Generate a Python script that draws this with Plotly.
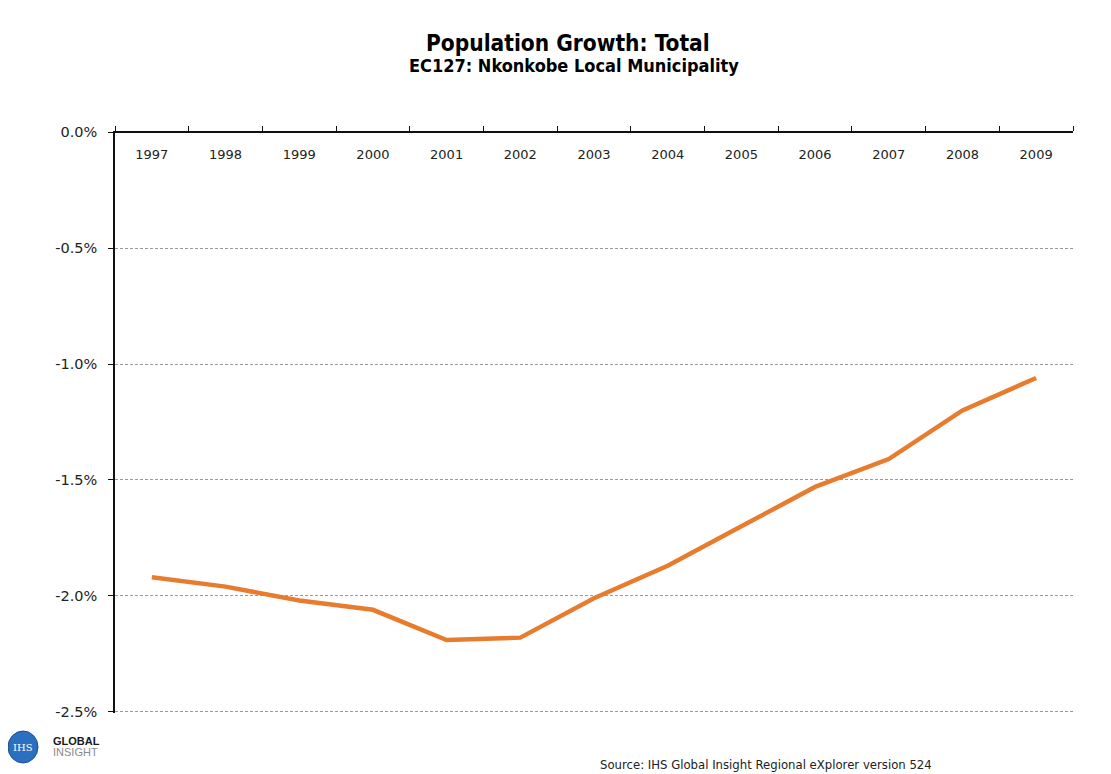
import plotly.graph_objects as go

# ---- data ----
years = ["1997", "1998", "1999", "2000", "2001", "2002", "2003",
         "2004", "2005", "2006", "2007", "2008", "2009"]
growth_pct = [-1.92, -1.96, -2.02, -2.06, -2.19, -2.18, -2.01,
              -1.87, -1.70, -1.53, -1.41, -1.20, -1.06]
ytick_vals = [0.0, -0.5, -1.0, -1.5, -2.0, -2.5]
ytick_labels = ["0.0%", "-0.5%", "-1.0%", "-1.5%", "-2.0%", "-2.5%"]

title_text = "Population Growth: Total"
subtitle_text = "EC127: Nkonkobe Local Municipality"
source_text = "Source: IHS Global Insight Regional eXplorer version 524"

# page offset of the figure in the browser (body margin)
OFF = 8
PAD = 0.005  # small y-range padding so edge gridlines/labels are kept
PXU = (712 - 132) / 2.5  # pixels per unit in reference
W, H = 1111 - OFF, 774 - OFF
L = 115 - OFF
T = round(132 - OFF - PAD * PXU)
R = W - (1073 - OFF)
B = round(H - (712 - OFF) - PAD * PXU)

fig = go.Figure()
fig.add_trace(go.Scatter(
    x=years, y=growth_pct, mode="lines",
    line=dict(color="#E87C2E", width=4.5),
    hoverinfo="x+y", showlegend=False,
))

def px_x(px):
    return (px - OFF - L) / (W - L - R)

def px_y(py):
    return 1 - (py - OFF - T) / (H - T - B)

title_font = "'DejaVu Sans Condensed', 'Liberation Sans Narrow', 'DejaVu Sans', sans-serif"

fig.update_layout(
    width=W, height=H,
    margin=dict(l=L, r=R, t=T, b=B),
    paper_bgcolor="white", plot_bgcolor="white",
    font=dict(family="DejaVu Sans, Verdana, sans-serif", size=12, color="#222222"),
    xaxis=dict(
        type="category", side="top", range=[-0.5, 12.5],
        showline=False,
        ticks="", showticklabels=True,
        ticklabelposition="outside", ticklabelstandoff=-32,
        showgrid=False, zeroline=False, automargin=False,
        tickfont=dict(size=13, color="#222222"),
    ),
    yaxis=dict(
        range=[-2.5 - PAD, 0 + PAD], tickvals=ytick_vals, ticktext=ytick_labels,
        showline=True, linecolor="#111111", linewidth=1.5,
        ticks="outside", ticklen=5, tickcolor="#111111",
        ticklabelstandoff=8, automargin=False,
        showgrid=True, gridcolor="#9a9a9a", gridwidth=1, griddash="3px,2px",
        zeroline=False,
        tickfont=dict(size=14.5, color="#222222"),
    ),
    # top category axis line with boundary ticks (overlaid axis drawn at y = 0)
    xaxis2=dict(
        type="category", overlaying="x", side="top", range=[-0.5, 12.5],
        anchor="free", position=1 - PAD / (2.5 + 2 * PAD),
        showline=True, linecolor="#111111", linewidth=1.5,
        ticks="outside", ticklen=5, tickcolor="#111111", tickson="boundaries",
        showticklabels=False, showgrid=False, zeroline=False, automargin=False,
    ),
)

# invisible trace to activate the top axis
fig.add_trace(go.Scatter(x=years, y=growth_pct, xaxis="x2", mode="lines",
                         line=dict(width=0), hoverinfo="skip", showlegend=False,
                         opacity=0))

annotations = [
    dict(text="<b>" + title_text + "</b>", x=px_x(568), y=px_y(43),
         xref="paper", yref="paper", showarrow=False,
         xanchor="center", yanchor="middle",
         font=dict(family=title_font, size=22.5, color="#000000")),
    dict(text="<b>" + subtitle_text + "</b>", x=px_x(574), y=px_y(66),
         xref="paper", yref="paper", showarrow=False,
         xanchor="center", yanchor="middle",
         font=dict(family=title_font, size=18, color="#000000")),
    dict(text=source_text, x=px_x(598), y=px_y(765),
         xref="paper", yref="paper", showarrow=False,
         xanchor="left", yanchor="middle",
         font=dict(family="DejaVu Sans, sans-serif", size=11.7, color="#222222")),
    # logo texts
    dict(text="IHS", x=px_x(23), y=px_y(747),
         xref="paper", yref="paper", showarrow=False,
         xanchor="center", yanchor="middle",
         font=dict(family="DejaVu Serif, serif", size=10, color="#ffffff")),
    dict(text="<b>GLOBAL</b>", x=px_x(51), y=px_y(741),
         xref="paper", yref="paper", showarrow=False,
         xanchor="left", yanchor="middle",
         font=dict(family="Liberation Sans Narrow, Arial, sans-serif", size=11, color="#1a1a1a")),
    dict(text="INSIGHT", x=px_x(51), y=px_y(752),
         xref="paper", yref="paper", showarrow=False,
         xanchor="left", yanchor="middle",
         font=dict(family="Liberation Sans Narrow, Arial, sans-serif", size=11, color="#8a8a8a")),
]
fig.update_layout(annotations=annotations)

fig.add_shape(type="circle", xref="paper", yref="paper",
              x0=px_x(8), x1=px_x(38), y0=px_y(763), y1=px_y(731),
              fillcolor="#2a6fc0", line=dict(color="#1c4f94", width=1), layer="above")

fig.write_html("out.html")
